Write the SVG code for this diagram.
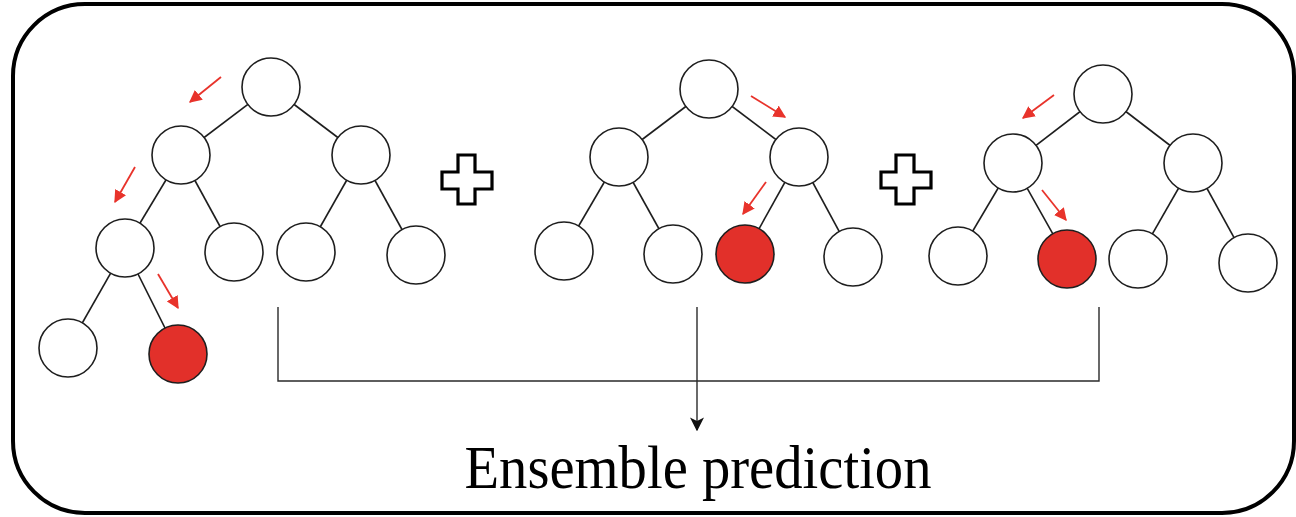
<svg xmlns="http://www.w3.org/2000/svg" width="1296" height="517" viewBox="0 0 1296 517">
  <style>
    .frame { fill: #ffffff; stroke: #000000; stroke-width: 4; }
    .edge { stroke: #1e1e1e; stroke-width: 1.6; fill: none; }
    .node { fill: #ffffff; stroke: #1e1e1e; stroke-width: 1.6; }
    .leaf-hit { fill: #e2302a; stroke: #1e1e1e; stroke-width: 1.6; }
    .path-arrow { stroke: #e8332b; stroke-width: 1.8; fill: none; marker-end: url(#redHead); }
    .plus { fill: #ffffff; stroke: #000000; stroke-width: 3.2; stroke-linejoin: miter; }
    .link { stroke: #2a2a2a; stroke-width: 1.4; fill: none; }
    .label { font-family: "Liberation Serif", "DejaVu Serif", serif; font-size: 62px; fill: #000000; }
  </style>
  <defs>
    <marker id="redHead" viewBox="0 0 10 10" refX="9" refY="5" markerWidth="7" markerHeight="7" orient="auto" markerUnits="strokeWidth">
      <path d="M0,0 L10,5 L0,10 Z" fill="#e8332b"/>
    </marker>
    <marker id="blackHead" viewBox="0 0 10 10" refX="9" refY="5" markerWidth="10" markerHeight="10" orient="auto" markerUnits="strokeWidth">
      <path d="M0,0 L10,5 L0,10 L2.5,5 Z" fill="#111111"/>
    </marker>
  </defs>

  <!-- outer frame -->
  <rect class="frame" x="13" y="4" width="1281" height="509" rx="72" ry="72"/>

  <!-- tree 1 -->
  <g id="tree1">
    <line class="edge" x1="271" y1="87" x2="181" y2="155"/>
    <line class="edge" x1="271" y1="87" x2="361" y2="155"/>
    <line class="edge" x1="181" y1="155" x2="125" y2="248"/>
    <line class="edge" x1="181" y1="155" x2="234" y2="252"/>
    <line class="edge" x1="361" y1="155" x2="306" y2="252"/>
    <line class="edge" x1="361" y1="155" x2="416" y2="255"/>
    <line class="edge" x1="125" y1="248" x2="68" y2="348"/>
    <line class="edge" x1="125" y1="248" x2="178" y2="354"/>
    <circle class="node" cx="271" cy="87" r="29"/>
    <circle class="node" cx="181" cy="155" r="29"/>
    <circle class="node" cx="361" cy="155" r="29"/>
    <circle class="node" cx="125" cy="248" r="29"/>
    <circle class="node" cx="234" cy="252" r="29"/>
    <circle class="node" cx="306" cy="252" r="29"/>
    <circle class="node" cx="416" cy="255" r="29"/>
    <circle class="node" cx="68" cy="348" r="29"/>
    <circle class="leaf-hit" cx="178" cy="354" r="29"/>
    <line class="path-arrow" x1="221" y1="77" x2="190" y2="102"/>
    <line class="path-arrow" x1="135" y1="167" x2="115" y2="202"/>
    <line class="path-arrow" x1="158" y1="274" x2="178" y2="308"/>
  </g>

  <!-- plus sign 1 -->
  <g id="plus1">
    <path class="plus" d="M458,155 H475 V172 H492 V189 H475 V204 H458 V189 H442 V172 H458 Z"/>
  </g>

  <!-- tree 2 -->
  <g id="tree2">
    <line class="edge" x1="709" y1="89" x2="619" y2="157"/>
    <line class="edge" x1="709" y1="89" x2="799" y2="157"/>
    <line class="edge" x1="619" y1="157" x2="564" y2="251"/>
    <line class="edge" x1="619" y1="157" x2="673" y2="254"/>
    <line class="edge" x1="799" y1="157" x2="745" y2="254"/>
    <line class="edge" x1="799" y1="157" x2="853" y2="257"/>
    <circle class="node" cx="709" cy="89" r="29"/>
    <circle class="node" cx="619" cy="157" r="29"/>
    <circle class="node" cx="799" cy="157" r="29"/>
    <circle class="node" cx="564" cy="251" r="29"/>
    <circle class="node" cx="673" cy="254" r="29"/>
    <circle class="leaf-hit" cx="745" cy="254" r="29"/>
    <circle class="node" cx="853" cy="257" r="29"/>
    <line class="path-arrow" x1="751" y1="96" x2="785" y2="117"/>
    <line class="path-arrow" x1="766" y1="182" x2="743" y2="214"/>
  </g>

  <!-- plus sign 2 -->
  <g id="plus2">
    <path class="plus" d="M896,155 H914 V172 H931 V188 H914 V204 H896 V188 H881 V172 H896 Z"/>
  </g>

  <!-- tree 3 -->
  <g id="tree3">
    <line class="edge" x1="1103" y1="94" x2="1013" y2="163"/>
    <line class="edge" x1="1103" y1="94" x2="1193" y2="163"/>
    <line class="edge" x1="1013" y1="163" x2="958" y2="256"/>
    <line class="edge" x1="1013" y1="163" x2="1067" y2="259"/>
    <line class="edge" x1="1193" y1="163" x2="1138" y2="259"/>
    <line class="edge" x1="1193" y1="163" x2="1248" y2="263"/>
    <circle class="node" cx="1103" cy="94" r="29"/>
    <circle class="node" cx="1013" cy="163" r="29"/>
    <circle class="node" cx="1193" cy="163" r="29"/>
    <circle class="node" cx="958" cy="256" r="29"/>
    <circle class="leaf-hit" cx="1067" cy="259" r="29"/>
    <circle class="node" cx="1138" cy="259" r="29"/>
    <circle class="node" cx="1248" cy="263" r="29"/>
    <line class="path-arrow" x1="1054" y1="95" x2="1023" y2="118"/>
    <line class="path-arrow" x1="1042" y1="190" x2="1066" y2="220"/>
  </g>

  <!-- connectors: trees combined into one prediction -->
  <g id="connectors">
    <polyline class="link" points="278,307 278,381 1099,381 1099,307"/>
    <line class="link" x1="697" y1="307" x2="697" y2="430" marker-end="url(#blackHead)"/>
  </g>

  <g id="prediction">
    <text class="label" x="698" y="488" text-anchor="middle" textLength="467" lengthAdjust="spacingAndGlyphs">Ensemble prediction</text>
  </g>
</svg>
